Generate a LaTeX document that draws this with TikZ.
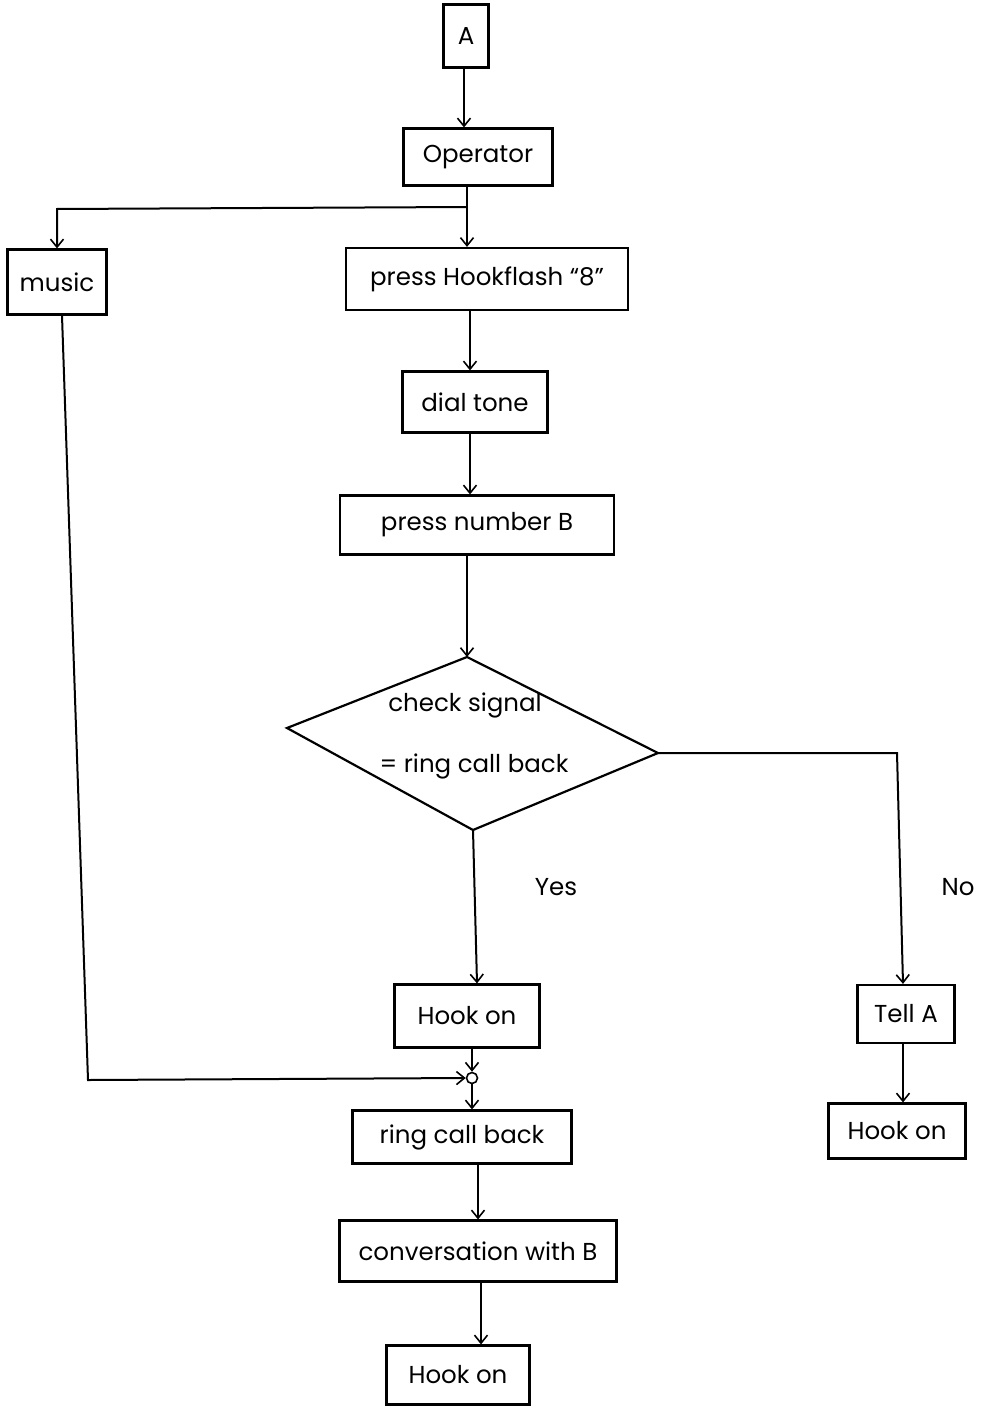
\documentclass[tikz,border=0pt]{standalone}
\usepackage{fontspec}
\setmainfont{Poppins}
\usetikzlibrary{arrows.meta}
\tikzset{
  box/.style={draw, line width=2.2pt, inner sep=0pt, font=\fontsize{24.5}{28}\selectfont},
  lbl/.style={font=\fontsize{24.5}{28}\selectfont},
  wire/.style={line width=2pt},
  arr/.style={wire, -{Straight Barb[length=8pt,width=13pt,line width=1.6pt]}},
}
\begin{document}
\begin{tikzpicture}[x=1pt,y=-1pt]
\useasboundingbox (0,0) rectangle (981,1407);

% process boxes
\node[box, minimum width=45pt, minimum height=63pt] (a) at (466,36) {A};
\node[box, minimum width=149pt, minimum height=57pt] (op) at (478,157) {Operator};
\node[box, minimum width=99pt, minimum height=65pt] (music) at (57,282) {music};
\node[box, minimum width=282pt, minimum height=62pt] (hf) at (487,279) {press Hookflash ``8''};
\node[box, minimum width=145pt, minimum height=61pt] (dt) at (475,402) {dial tone};
\node[box, minimum width=274pt, minimum height=59pt] (nb) at (477,525) {press number B};
\node[box, minimum width=145pt, minimum height=63pt] (hk1) at (467,1016) {Hook on};
\node[box, minimum width=219pt, minimum height=53pt] (ring) at (462,1137) {ring call back};
\node[box, minimum width=277pt, minimum height=61pt] (conv) at (478,1251) {conversation with B};
\node[box, minimum width=143pt, minimum height=59pt] (hk3) at (458,1375) {Hook on};
\node[box, minimum width=97pt, minimum height=58pt] (tell) at (906,1014) {Tell A};
\node[box, minimum width=137pt, minimum height=55pt] (hk2) at (897,1131) {Hook on};

% decision: hand-drawn diamond given by its four corners
\coordinate (chkN) at (467,657);
\coordinate (chkW) at (287,728);
\coordinate (chkE) at (658,753);
\coordinate (chkS) at (473,830);
\draw[line width=2.2pt, line join=miter] (chkN) -- (chkE) -- (chkS) -- (chkW) -- cycle;
\node[lbl] (chk1) at (465,705) {check signal};
\node[lbl] (chk2) at (474,766) {= ring call back};

% merge point above "ring call back"
\node[draw, circle, line width=1.6pt, minimum size=11pt, inner sep=0pt] (j) at (472,1078) {};

% branch labels
\node[lbl] (yes) at (556,887) {Yes};
\node[lbl] (no) at (958,887) {No};

% free corners
\coordinate (split) at (467,207);
\coordinate (mleft) at (57,209);
\coordinate (mbot) at (88,1080);
\coordinate (nocorner) at (897,753);

% connectors
\draw[arr] (a.south -| 464,0) -- (op.north -| 464,0);
\draw[wire] (op.south -| split) -- (split);
\draw[arr] (split) -- (hf.north -| split);
\draw[arr] (split) -- (mleft) -- (music.north);
\draw[arr] (hf.south -| 470,0) -- (dt.north -| 470,0);
\draw[arr] (dt.south -| 470,0) -- (nb.north -| 470,0);
\draw[arr] (nb.south -| chkN) -- (chkN);
\draw[arr] (chkS) -- (hk1.north -| 477,0);
\draw[arr] (chkE) -- (nocorner) -- (tell.north -| 903,0);
\draw[arr] (tell.south -| 903,0) -- (hk2.north -| 903,0);
\draw[arr] (hk1.south -| j) -- (j.north);
\draw[arr] ([xshift=5pt]music.south) -- (mbot) -- (j.west);
\draw[arr] (j.south) -- (ring.north -| j);
\draw[arr] (ring.south -| 478,0) -- (conv.north -| 478,0);
\draw[arr] (conv.south -| 481,0) -- (hk3.north -| 481,0);
\end{tikzpicture}
\end{document}
